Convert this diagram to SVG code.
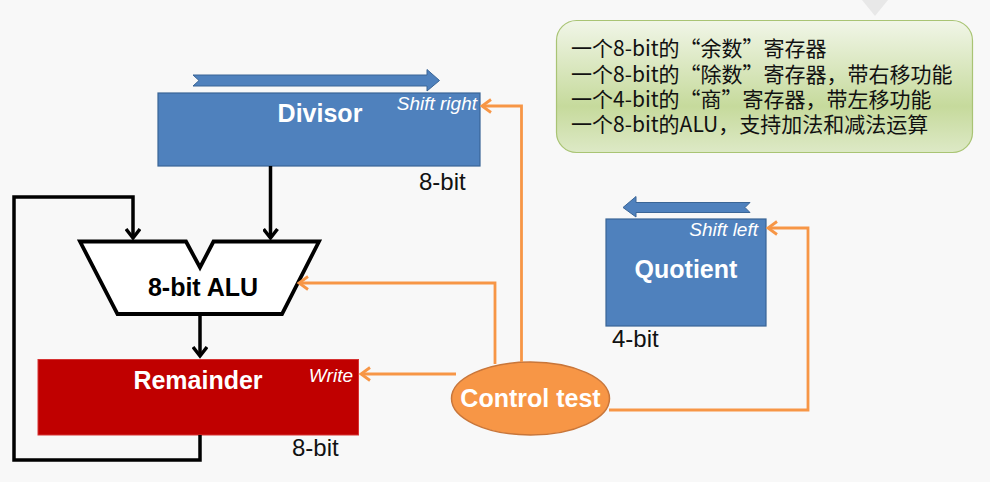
<svg xmlns="http://www.w3.org/2000/svg" width="990" height="482" viewBox="0 0 990 482">
<defs>
<style>
.reg{stroke:#3a6596;stroke-width:1.2}
.lbl{font-family:"Liberation Sans",Arial,sans-serif;font-weight:bold;fill:#ffffff;font-size:25px;text-anchor:middle}
.it{font-family:"Liberation Sans",Arial,sans-serif;font-style:italic;fill:#ffffff;font-size:19px;text-anchor:end}
.bits{font-family:"Liberation Sans",Arial,sans-serif;fill:#111111;font-size:24px}
.blk{fill:none;stroke:#000000;stroke-width:3.5;stroke-linejoin:miter}
.org{fill:none;stroke:#f79646;stroke-width:2.8}
.cn{font-family:"Noto Sans CJK SC","Liberation Sans",sans-serif;font-size:21px;fill:#111111}
</style>
<marker id="ab" markerWidth="14" markerHeight="16" refX="11" refY="8" orient="auto" markerUnits="userSpaceOnUse">
<path d="M2,1 L11,8 L2,15" fill="none" stroke="#000000" stroke-width="3.5"/>
</marker>
<marker id="ao" markerWidth="14" markerHeight="16" refX="11" refY="8" orient="auto" markerUnits="userSpaceOnUse">
<path d="M2,1.5 L11,8 L2,14.5" fill="none" stroke="#f79646" stroke-width="2.8"/>
</marker>
<linearGradient id="gg" x1="0" y1="0" x2="0" y2="1">
<stop offset="0" stop-color="#f1f6e8"/>
<stop offset="0.65" stop-color="#c6da9c"/>
<stop offset="1" stop-color="#dde9c6"/>
</linearGradient>
</defs>
<rect x="0" y="0" width="990" height="482" fill="#f8f8f8"/>
<polygon points="862,0 888,0 875,16" fill="#e8e8e8"/>

<g id="note">
<rect x="556.5" y="20.5" width="416" height="132" rx="20" fill="url(#gg)" stroke="#a9c474" stroke-width="1.2"/>
<text class="cn" x="571" y="56">一个8-bit的“余数”寄存器</text>
<text class="cn" x="571" y="81.5">一个8-bit的“除数”寄存器，带右移功能</text>
<text class="cn" x="571" y="106.5">一个4-bit的“商”寄存器，带左移功能</text>
<text class="cn" x="571" y="131.5">一个8-bit的ALU，支持加法和减法运算</text>
</g>

<g id="divisor">
<path d="M193,75 L427,75 L427,69.5 L439.5,80.5 L427,91 L427,86 L193,86 L199,80.5 Z" fill="#4f81bd" stroke="#3a6596" stroke-width="1"/>
<rect class="reg" x="158" y="93" width="322" height="73" fill="#4f81bd"/>
<text class="lbl" x="320" y="122">Divisor</text>
<text class="it" x="477" y="110">Shift right</text>
<text class="bits" x="419" y="190">8-bit</text>
</g>

<g id="alu">
<path d="M80,241.5 L186,241.5 L200,267.5 L213.5,241.5 L319,241.5 L282,314 L117.5,314 Z" fill="#ffffff" stroke="#000000" stroke-width="3.8" stroke-linejoin="miter"/>
<text x="203" y="296" font-family="Liberation Sans,Arial,sans-serif" font-weight="bold" font-size="25" fill="#000000" text-anchor="middle">8-bit ALU</text>
</g>

<g id="remainder">
<rect x="38" y="359.5" width="320.5" height="75.5" fill="#c00000" stroke="#d63333" stroke-width="1"/>
<text class="lbl" x="198" y="389">Remainder</text>
<text class="it" x="353" y="382">Write</text>
<text class="bits" x="292" y="456">8-bit</text>
</g>

<g id="quotient">
<path d="M750,202.5 L636,202.5 L636,196.5 L623,207.5 L636,217 L636,212.5 L750,212.5 L745,207.5 Z" fill="#4f81bd" stroke="#3a6596" stroke-width="1"/>
<rect class="reg" x="606" y="219" width="160" height="107" fill="#4f81bd"/>
<text class="lbl" x="686" y="278">Quotient</text>
<text class="it" x="758" y="236">Shift left</text>
<text class="bits" x="612" y="347">4-bit</text>
</g>

<g id="control">
<ellipse cx="530.5" cy="398.5" rx="79" ry="36.5" fill="#f79646" stroke="#c8763a" stroke-width="1.5"/>
<text class="lbl" x="530.5" y="407">Control test</text>
</g>

<g id="connectors">
<polyline class="blk" points="270.5,166 270.5,238" marker-end="url(#ab)"/>
<polyline class="blk" points="200,435 200,460 14,460 14,197 133,197 133,238" marker-end="url(#ab)"/>
<polyline class="blk" points="200,314 200,356" marker-end="url(#ab)"/>
<polyline class="org" points="521.5,362 521.5,106 482,106" marker-end="url(#ao)"/>
<polyline class="org" points="495,364 495,283 299,283" marker-end="url(#ao)"/>
<polyline class="org" points="456,374 361,374" marker-end="url(#ao)"/>
<polyline class="org" points="609,410 808,410 808,228 768,228" marker-end="url(#ao)"/>
</g>
</svg>
